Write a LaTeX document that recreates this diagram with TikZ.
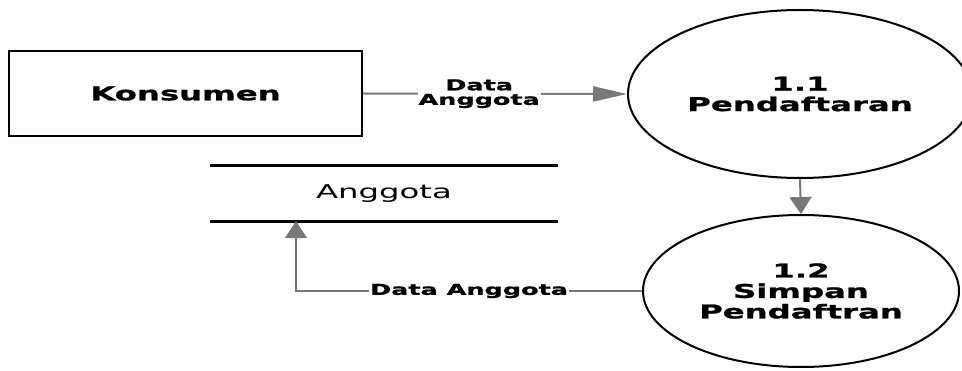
\documentclass[tikz,border=0pt]{standalone}
\usepackage{fontspec}
\newfontfamily\dfdfont[FakeStretch=1.7, BoldFeatures={FakeBold=1.2}]{DejaVu Sans}
\usetikzlibrary{shapes.geometric, arrows.meta}
\definecolor{flowgray}{RGB}{120,120,120}

\begin{document}
\begin{tikzpicture}[x=1pt, y=-1pt, >={Triangle[length=17pt, width=22pt]},
	entity/.style={draw, line width=2pt, minimum width=353pt, minimum height=85pt, font=\dfdfont\bfseries\fontsize{19}{20}\selectfont},
	process/.style={ellipse, draw, line width=2pt, inner sep=0pt, align=center, font=\dfdfont\bfseries\fontsize{19}{20.5}\selectfont},
	store/.style={minimum width=348pt, minimum height=55pt, inner sep=0pt, font=\dfdfont\fontsize{19}{20}\selectfont},
	flow/.style={->, draw=flowgray, line width=2pt},
	flowlabel/.style={fill=white, inner sep=1pt, align=center, font=\dfdfont\bfseries\fontsize{15}{14.5}\selectfont}]
	
	\useasboundingbox (0,0) rectangle (962,371);
	
	% --- 1. entitas dan proses ---
	\node[entity] (konsumen) at (185.5,93.5) {Konsumen};
	\node[process, minimum width=344pt, minimum height=168pt] (p11) at (800,94) {1.1\\Pendaftaran};
	\node[process, minimum width=316pt, minimum height=152pt] (p12) at (801,291) {1.2\\Simpan\\Pendaftran};
	
	% --- 2. data store (dua garis) ---
	\node[store] (anggota) at (384,193.5) {Anggota};
	\draw[line width=3pt] (anggota.north west) -- (anggota.north east);
	\draw[line width=3pt] (anggota.south west) -- (anggota.south east);
	
	% --- 3. aliran data ---
	\draw[flow, >={Triangle[length=34pt, width=15pt]}] (konsumen.east) -- node[flowlabel, pos=0.44] {Data\\Anggota} (p11.west);
	\draw[flow] (p11.south) -- (p12.north);
	\draw[flow] (p12.west) -| node[flowlabel, pos=0.25] {Data Anggota} ([xshift=-88pt]anggota.south);
	
\end{tikzpicture}
\end{document}
